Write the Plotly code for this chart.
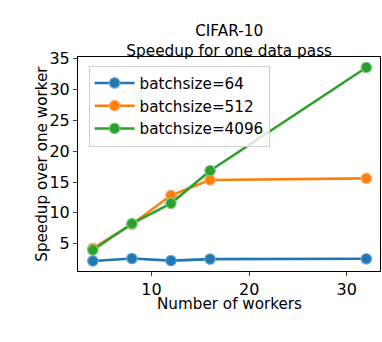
import plotly.graph_objects as go

workers = [4, 8, 12, 16, 32]
names = ["batchsize=64", "batchsize=512", "batchsize=4096"]
speedup_64 = [2.2, 2.6, 2.25, 2.5, 2.55]
speedup_512 = [4.25, 8.15, 12.85, 15.35, 15.6]
speedup_4096 = [3.98, 8.25, 11.55, 16.85, 33.6]
colors = ["#1f77b4", "#ff7f0e", "#2ca02c"]
edge_colors = ["#6fa8d6", "#ffb070", "#7ccc7c"]
series = [speedup_64, speedup_512, speedup_4096]

font = "DejaVu Sans"
fig = go.Figure()
for name, vals, c, ec in zip(names, series, colors, edge_colors):
    fig.add_trace(go.Scatter(
        x=workers, y=vals, name=name, mode="lines+markers",
        line=dict(color=c, width=2.6),
        marker=dict(symbol="circle", size=10.5, color=c, line=dict(color=ec, width=1.2)),
    ))

fig.update_layout(
    width=382, height=342,
    margin=dict(l=78, r=2, t=57, b=71),
    paper_bgcolor="white", plot_bgcolor="white",
    font=dict(family=font, size=15.2, color="black"),
    title=dict(text="CIFAR-10<br>Speedup for one data pass", x=0.6, xanchor="center",
               xref="container", yref="container",
               y=0.895, yanchor="top", font=dict(size=15.3)),
    showlegend=True,
    legend=dict(x=0.035, y=0.96, xanchor="left", yanchor="top",
                bordercolor="#d0d0d0", borderwidth=1, bgcolor="rgba(255,255,255,0.8)",
                font=dict(size=15.2), itemwidth=40, tracegroupgap=0),
    annotations=[
        dict(text="Number of workers", xref="paper", yref="paper", x=0.5, y=-0.103,
             xanchor="center", yanchor="top", showarrow=False, font=dict(size=15.2)),
        dict(text="Speedup over one worker", xref="paper", yref="paper", x=-0.12, y=0.5,
             xanchor="center", yanchor="middle", textangle=-90, showarrow=False,
             font=dict(size=15.2)),
    ],
)
fig.update_xaxes(range=[2.48, 33.4], tickvals=[10, 20, 30], ticks="outside", ticklen=4,
                 showgrid=False, zeroline=False, showline=True, linecolor="black",
                 linewidth=1, mirror=True, tickfont=dict(size=16))
fig.update_yaxes(range=[0.57, 35.3], tickvals=[5, 10, 15, 20, 25, 30, 35], ticks="outside",
                 ticklen=4, showgrid=False, zeroline=False, showline=True, linecolor="black",
                 linewidth=1, mirror=True, tickfont=dict(size=16))
fig.write_html("out.html", config={"displayModeBar": False},
               post_script="document.body.style.margin='0';")
